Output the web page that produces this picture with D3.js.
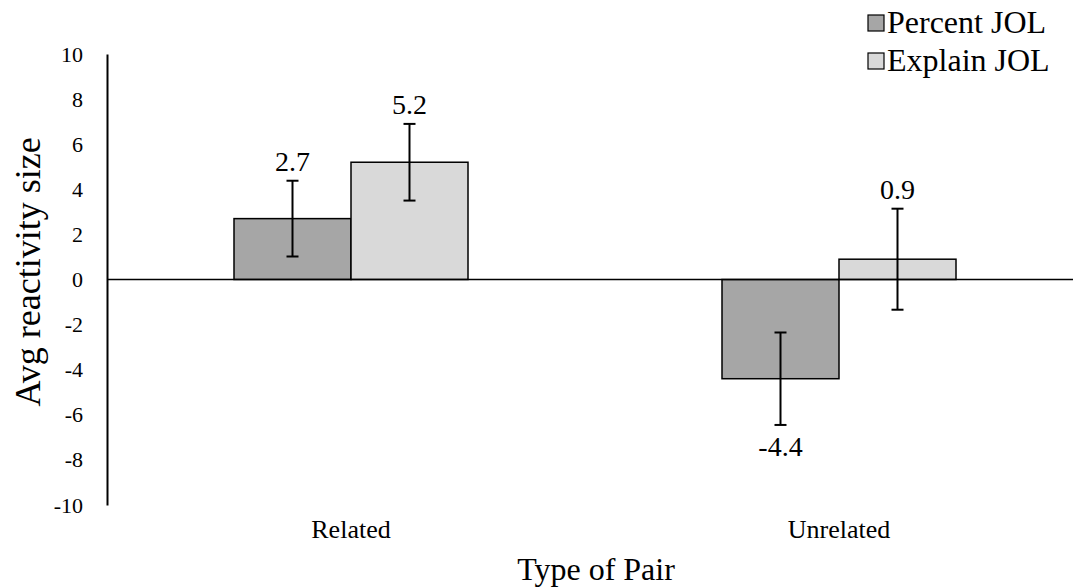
<!DOCTYPE html>
<html>
<head>
<meta charset="utf-8">
<script src="https://cdn.jsdelivr.net/npm/d3@7"></script>
<style>
  body { margin: 0; background: #fff; }
  text { font-family: "Liberation Serif", "Times New Roman", serif; fill: #000; }
</style>
</head>
<body>
<svg id="chart" width="1073" height="588"></svg>
<script>
// data
const categories = ['Related', 'Unrelated'];
const seriesNames = ['Percent JOL', 'Explain JOL'];
const percentJOL = [2.7, -4.4];
const explainJOL = [5.2, 0.9];
const percentErr = [1.68, 2.05];
const explainErr = [1.7, 2.24];
const yTicks = [-10, -8, -6, -4, -2, 0, 2, 4, 6, 8, 10];
const colors = ['#a6a6a6', '#d9d9d9'];

// excel style: plain hyphen for negatives
const fmtInt = d => String(d);
const fmtOne = d => d.toFixed(1);

const svg = d3.select('#chart');
const margin = { left: 107, right: -10, top: 54, bottom: 83 };
const width = 1073 - margin.left - margin.right;
const height = 588 - margin.top - margin.bottom;

const g = svg.append('g')
    .attr('transform', `translate(${margin.left}, ${margin.top})`);

const y = d3.scaleLinear().domain([-10, 10]).range([height, 0]);
const x0 = d3.scaleBand().domain(categories).range([0, width]).paddingInner(0).paddingOuter(0);
const x1 = d3.scaleBand().domain(seriesNames).range([0, 234])
    .paddingInner(0).paddingOuter(0);

const rows = [];
categories.forEach((c, i) => {
    rows.push({ cat: c, s: seriesNames[0], v: percentJOL[i], e: percentErr[i], col: colors[0] });
    rows.push({ cat: c, s: seriesNames[1], v: explainJOL[i], e: explainErr[i], col: colors[1] });
});
const xPos = d => x0(d.cat) + (x0.bandwidth() - 234) / 2 + x1(d.s);

// y axis
const yAxis = g.append('g')
    .call(d3.axisLeft(y).tickValues(yTicks).tickSize(0).tickPadding(24).tickFormat(fmtInt));
yAxis.select('.domain').attr('stroke', '#000').attr('stroke-width', 2);
yAxis.selectAll('text')
    .style('font-family', '"Liberation Serif", serif')
    .style('font-size', '22px')
    .attr('fill', '#000');

// bars
g.selectAll('.bar')
    .data(rows)
    .enter()
    .append('rect')
    .attr('x', xPos)
    .attr('y', d => y(Math.max(0, d.v)))
    .attr('width', x1.bandwidth())
    .attr('height', d => Math.abs(y(d.v) - y(0)))
    .attr('fill', d => d.col)
    .attr('stroke', '#000')
    .attr('stroke-width', 1.5);

// zero line
g.append('line')
    .attr('x1', 0).attr('x2', 1073 - margin.left)
    .attr('y1', y(0)).attr('y2', y(0))
    .attr('stroke', '#000').attr('stroke-width', 1.5);

// error bars
const eb = g.selectAll('.err')
    .data(rows)
    .enter()
    .append('g')
    .attr('transform', d => `translate(${xPos(d) + x1.bandwidth() / 2}, 0)`);
eb.append('line')
    .attr('y1', d => y(d.v + d.e)).attr('y2', d => y(d.v - d.e))
    .attr('stroke', '#000').attr('stroke-width', 2);
eb.append('line')
    .attr('x1', -6).attr('x2', 6)
    .attr('y1', d => y(d.v + d.e)).attr('y2', d => y(d.v + d.e))
    .attr('stroke', '#000').attr('stroke-width', 2);
eb.append('line')
    .attr('x1', -6).attr('x2', 6)
    .attr('y1', d => y(d.v - d.e)).attr('y2', d => y(d.v - d.e))
    .attr('stroke', '#000').attr('stroke-width', 2);

// value labels
g.selectAll('.val')
    .data(rows)
    .enter()
    .append('text')
    .attr('x', d => xPos(d) + x1.bandwidth() / 2)
    .attr('y', d => d.v >= 0 ? y(d.v + d.e) - 10 : y(d.v - d.e) + 31)
    .attr('text-anchor', 'middle')
    .style('font-size', '28px')
    .text(d => fmtOne(d.v));

// category labels
g.selectAll('.cat')
    .data(categories)
    .enter()
    .append('text')
    .attr('x', d => x0(d) + x0.bandwidth() / 2)
    .attr('y', 538 - margin.top)
    .attr('text-anchor', 'middle')
    .style('font-size', '26px')
    .text(d => d);

// axis titles
svg.append('text')
    .attr('x', 596)
    .attr('y', 580)
    .attr('text-anchor', 'middle')
    .style('font-size', '32px')
    .text('Type of Pair');

svg.append('text')
    .attr('transform', 'translate(40, 272) rotate(-90)')
    .attr('text-anchor', 'middle')
    .style('font-size', '36px')
    .text('Avg reactivity size');

// legend
const legend = svg.append('g')
    .attr('transform', 'translate(868, 0)');
seriesNames.forEach((s, i) => {
    legend.append('rect')
        .attr('x', 0).attr('y', 15 + i * 38)
        .attr('width', 16).attr('height', 16)
        .attr('fill', colors[i])
        .attr('stroke', '#000').attr('stroke-width', 1.2);
    legend.append('text')
        .attr('x', 19).attr('y', 33 + i * 38)
        .style('font-size', '32px')
        .text(s);
});
</script>
</body>
</html>
